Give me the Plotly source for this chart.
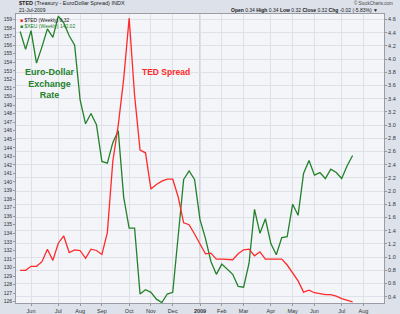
import datetime as dt
import plotly.graph_objects as go

# ---- data (weekly, week-start Mondays) ----
start_week = dt.date(2008, 5, 19)
ted = [0.80, 0.80, 0.86, 0.86, 0.93, 1.12, 0.95, 1.21, 1.32, 1.07,
       1.11, 1.10, 0.98, 1.12, 1.10, 1.04, 1.37, 2.45, 3.00, 3.70,
       4.62, 3.45, 2.62, 2.58, 2.03, 2.10, 2.15, 2.18, 2.18, 1.91,
       1.52, 1.49, 1.35, 1.21, 1.05, 1.06, 0.97, 0.97, 0.96, 0.96,
       1.05, 1.11, 1.12, 1.02, 1.08, 0.97, 0.97, 0.97, 0.97, 0.88,
       0.76, 0.64, 0.47, 0.50, 0.46, 0.44, 0.43, 0.43, 0.41, 0.37,
       0.34, 0.32]
xeu = [157.6, 155.5, 157.7, 153.9, 155.8, 157.9, 156.9, 159.4, 158.6, 157.1,
       156.0, 149.6, 146.8, 148.0, 146.7, 142.4, 142.2, 144.6, 146.0, 138.2,
       134.6, 134.6, 126.9, 127.4, 127.1, 126.3, 125.9, 126.9, 127.1, 133.3,
       140.3, 141.3, 140.3, 135.6, 133.4, 130.7, 129.2, 130.4, 129.8, 129.2,
       127.8, 127.7, 130.5, 136.8, 134.0, 135.7, 132.8, 131.5, 133.5, 133.6,
       137.4, 136.1, 141.0, 142.5, 140.8, 141.1, 140.4, 141.5, 141.1, 140.4,
       141.9, 143.1]
weeks = [start_week + dt.timedelta(days=7 * i) for i in range(len(ted))]

month_ticks = ["2008-06-02", "2008-07-07", "2008-08-04", "2008-09-01", "2008-10-06",
               "2008-11-03", "2008-12-01", "2009-01-05", "2009-02-02", "2009-03-02",
               "2009-04-06", "2009-05-04", "2009-06-01", "2009-07-06", "2009-08-03"]
month_labels = ["Jun", "Jul", "Aug", "Sep", "Oct", "Nov", "Dec", "<b>2009</b>", "Feb",
                "Mar", "Apr", "May", "Jun", "Jul", "Aug"]
left_ticks = list(range(126, 160))
right_ticks = [round(0.4 + 0.2 * k, 1) for k in range(22)]

RED = "#ff2a2a"
GREEN = "#23812a"
FONT = "Liberation Sans"

ref = dt.datetime(2009, 1, 5)
x0 = ref - dt.timedelta(days=(200 - 16) / 5.45 * 7)
x1 = ref + dt.timedelta(days=(384 - 200) / 5.45 * 7)

fig = go.Figure()
fig.add_trace(go.Scatter(x=weeks, y=ted, mode="lines", yaxis="y2",
                         line=dict(color=RED, width=1.3), showlegend=False))
fig.add_trace(go.Scatter(x=weeks, y=xeu, mode="lines", yaxis="y",
                         line=dict(color=GREEN, width=1.3), showlegend=False))

fig.update_layout(
    width=400, height=314,
    margin=dict(l=16, r=16, t=14, b=11, autoexpand=False),
    paper_bgcolor="#dde1ea",
    plot_bgcolor="#f4f5f9",
    font=dict(family=FONT, size=5, color="#333"),
    xaxis=dict(range=[x0, x1], tickvals=month_ticks, ticktext=month_labels,
               showgrid=True, gridcolor="#dfe1e8", gridwidth=1, automargin=False,
               ticks="outside", ticklen=2, tickcolor="#999",
               showline=True, linecolor="#9a9ca6", mirror=True,
               tickfont=dict(size=5.5, color="#333"), zeroline=False),
    yaxis=dict(range=[125.85, 159.64], tickvals=left_ticks, automargin=False,
               ticktext=[str(v) for v in left_ticks], showgrid=False,
               ticks="outside", ticklen=2, tickcolor="#999",
               showline=True, linecolor="#9a9ca6", mirror=True,
               tickfont=dict(size=5, color="#333"), zeroline=False),
    yaxis2=dict(range=[0.3045, 4.683], tickvals=right_ticks, automargin=False,
                ticktext=["%.1f" % v for v in right_ticks],
                overlaying="y", side="right", showgrid=True,
                gridcolor="#dfe1e8", ticks="outside", ticklen=2, tickcolor="#999",
                tickfont=dict(size=5.5, color="#333"), zeroline=False),
)

# darker year gridline
fig.add_shape(type="line", xref="x", yref="paper", x0="2009-01-05", x1="2009-01-05",
              y0=0, y1=1, line=dict(color="#c8cad2", width=1.5), layer="below")

fig.add_annotation(xref="paper", yref="paper", x=0.092, y=0.761, showarrow=False,
                   xanchor="center", yanchor="middle", align="center",
                   text="<b>Euro-Dollar<br>Exchange<br>Rate</b>",
                   font=dict(size=9, color=GREEN, family=FONT))
fig.add_annotation(xref="paper", yref="paper", x=0.337, y=0.80, showarrow=False,
                   xanchor="left", yanchor="middle", text="<b>TED Spread</b>",
                   font=dict(size=8.5, color=RED, family=FONT))

# header texts
fig.add_annotation(xref="paper", yref="paper", x=0.002, y=1.0, yshift=11, xanchor="left",
                   yanchor="middle", showarrow=False,
                   text="<b>$TED</b> (Treasury - EuroDollar Spread) INDX",
                   font=dict(size=5.5, color="#222", family=FONT))
fig.add_annotation(xref="paper", yref="paper", x=0.002, y=1.0, yshift=4, xanchor="left",
                   yanchor="middle", showarrow=False, text="21-Jul-2009",
                   font=dict(size=5, color="#222", family=FONT))
fig.add_annotation(xref="paper", yref="paper", x=1.03, y=1.0, yshift=11, xanchor="right",
                   yanchor="middle", showarrow=False, text="© StockCharts.com",
                   font=dict(size=4.5, color="#444", family=FONT))
fig.add_annotation(xref="paper", yref="paper", x=0.99, y=1.0, yshift=4, xanchor="right",
                   yanchor="middle", showarrow=False,
                   text="<b>Open</b> 0.34 <b>High</b> 0.34 <b>Low</b> 0.32 <b>Close</b> 0.32 <b>Chg</b> -0.02 (-5.83%) ▼",
                   font=dict(size=5, color="#222", family=FONT))
# legend
fig.add_annotation(xref="paper", yref="paper", x=0.005, y=0.995, xanchor="left", yanchor="top",
                   showarrow=False, text="<span style='color:%s'>■</span> $TED (Weekly) 0.32" % RED,
                   font=dict(size=5, color="#222", family=FONT))
fig.add_annotation(xref="paper", yref="paper", x=0.005, y=0.975, xanchor="left", yanchor="top",
                   showarrow=False, text="<span style='color:%s'>■</span> $XEU (Weekly) 142.02" % GREEN,
                   font=dict(size=5, color=GREEN, family=FONT))

fig.write_html("out.html")
